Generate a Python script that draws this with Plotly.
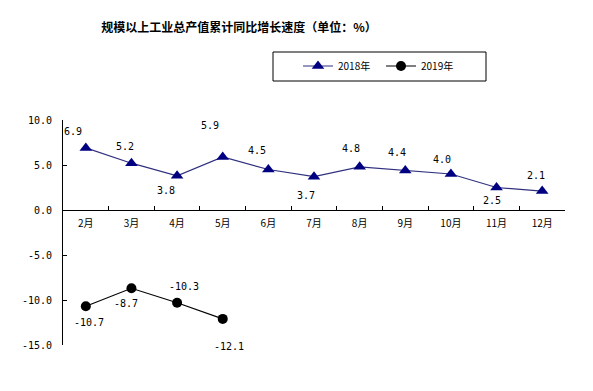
import plotly.graph_objects as go

months = ["2月", "3月", "4月", "5月", "6月", "7月", "8月", "9月", "10月", "11月", "12月"]
v2018 = [6.9, 5.2, 3.8, 5.9, 4.5, 3.7, 4.8, 4.4, 4.0, 2.5, 2.1]
v2019 = [-10.7, -8.7, -10.3, -12.1]
lab2018 = ["6.9", "5.2", "3.8", "5.9", "4.5", "3.7", "4.8", "4.4", "4.0", "2.5", "2.1"]
lab2019 = ["-10.7", "-8.7", "-10.3", "-12.1"]
# label offsets (px) relative to marker
off2018 = [(-13, 16), (-6, 17), (-11, -15), (-13, 31), (-11, 19), (-8, -19),
           (-9, 18), (-8, 18), (-9, 15), (-5, -13), (-6, 16)]
off2019 = [(3, -16), (-5, -15), (7, 16), (6, -28)]
ytickvals = [10, 5, 0, -5, -10, -15]
yticktext = ["10.0", "5.0", "0.0", "-5.0", "-10.0", "-15.0"]

numfont = dict(family="DejaVu Sans Mono, monospace", size=10, color="black")

W, H = 593, 391
L, R, T, B = 63, 28, 120, 46
pw, ph = W - L - R, H - T - B

def px_x(x):
    return (x - L) / pw

def px_y(y):
    return (H - B - y) / ph

fig = go.Figure()
fig.add_trace(go.Scatter(x=months, y=v2018, name="2018年", mode="lines+markers",
                         line=dict(color="#30307f", width=1.2),
                         marker=dict(symbol="triangle-up", size=11, color="#000080")))
fig.add_trace(go.Scatter(x=months[:len(v2019)], y=v2019, name="2019年", mode="lines+markers",
                         line=dict(color="black", width=1.2),
                         marker=dict(symbol="circle", size=10, color="black")))

anns = []
for m, v, t, (dx, dy) in zip(months, v2018, lab2018, off2018):
    anns.append(dict(x=m, y=v, text=t, showarrow=False, xshift=dx, yshift=dy, font=numfont))
for m, v, t, (dx, dy) in zip(months, v2019, lab2019, off2019):
    anns.append(dict(x=m, y=v, text=t, showarrow=False, xshift=dx, yshift=dy, font=numfont))

fig.update_layout(
    width=W, height=H,
    margin=dict(l=L, r=R, t=T, b=B, autoexpand=False),
    paper_bgcolor="white", plot_bgcolor="white",
    title=dict(text="<b>规模以上工业总产值累计同比增长速度（单位：%）</b>",
               x=239/W, xanchor="center", y=1-28/H, yanchor="middle",
               font=dict(family="Noto Sans CJK SC", size=12, color="black")),
    showlegend=True,
    legend=dict(orientation="h", xref="container", yref="container",
                x=298/W, xanchor="left", y=1-66/H, yanchor="middle",
                borderwidth=0, bgcolor="rgba(0,0,0,0)",
                entrywidth=38, itemwidth=30,
                font=dict(family="Noto Sans CJK SC", size=10, color="black")),
    shapes=[dict(type="rect", xref="paper", yref="paper",
                 x0=px_x(273), x1=px_x(486), y0=px_y(81), y1=px_y(52),
                 line=dict(color="black", width=1), fillcolor="rgba(0,0,0,0)")],
    annotations=anns,
    xaxis=dict(type="category", range=[-0.5, 10.5], anchor="free", position=15/25,
               showline=True, linecolor="black", linewidth=1,
               ticks="inside", ticklen=4, tickcolor="black", tickson="boundaries",
               showgrid=False, zeroline=False, ticklabelstandoff=4, automargin=False,
               tickfont=dict(family="Noto Sans CJK SC", size=10, color="black")),
    yaxis=dict(range=[-15, 10], tickvals=ytickvals, ticktext=yticktext,
               showline=True, linecolor="black", linewidth=1,
               ticks="inside", ticklen=4, tickcolor="black", automargin=False,
               ticklabelstandoff=8,
               showgrid=False, zeroline=False,
               tickfont=numfont),
)
fig.write_html("out.html", config={"displayModeBar": False},
               post_script="document.body.style.margin='0';document.body.style.padding='0';")
